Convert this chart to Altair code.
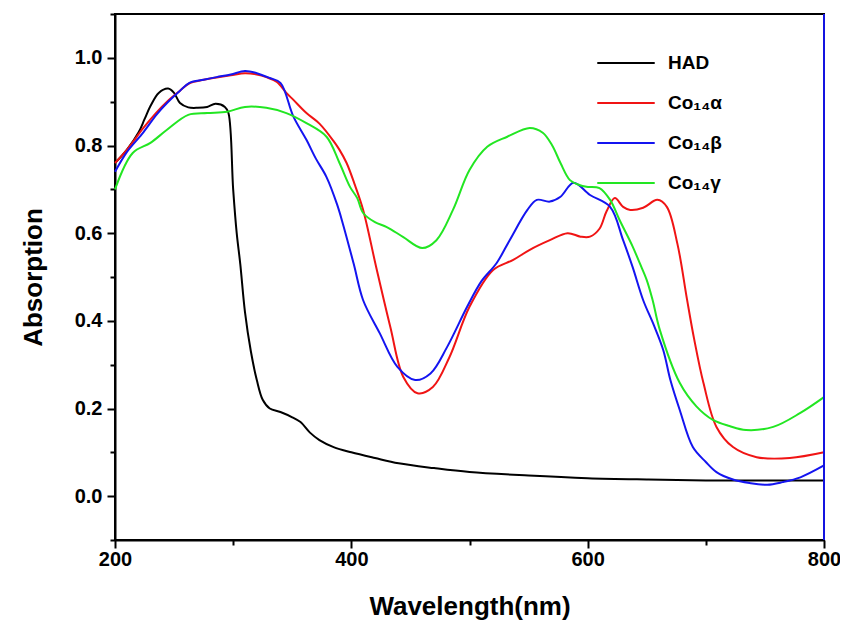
import altair as alt
import pandas as pd

series_names = ["HAD", "Co₁₄α", "Co₁₄β", "Co₁₄γ"]
series_colors = ["#000000", "#f01414", "#1414f0", "#22e622"]

had_nm = [200, 210, 220, 225, 230, 237, 245, 250, 255, 262, 270, 278, 285, 293, 296, 300, 303, 306,
          310, 315, 320, 325, 331, 340, 350, 357, 365, 373, 385, 400, 420, 440, 470, 500, 550, 600,
          650, 700, 750, 800]
had_abs = [0.76, 0.79, 0.83, 0.86, 0.89, 0.92, 0.93, 0.92, 0.897, 0.887, 0.886, 0.888, 0.895, 0.888,
           0.874, 0.70, 0.60, 0.53, 0.42, 0.33, 0.265, 0.22, 0.20, 0.192, 0.18, 0.169, 0.145, 0.128,
           0.112, 0.10, 0.087, 0.075, 0.064, 0.055, 0.047, 0.041, 0.038, 0.036, 0.036, 0.036]

alpha_nm = [200, 210, 224, 235, 244, 255, 263, 275, 286, 298, 310, 320, 328, 337, 345, 351, 362, 373,
            385, 390, 396, 403, 410, 421, 433, 444, 456, 469, 483, 500, 520, 537, 551, 568, 583, 594,
            602, 610, 616, 623, 630, 636, 647, 659, 667, 676, 684, 690, 698, 709, 723, 743, 771, 800]
alpha_abs = [0.76, 0.79, 0.84, 0.875, 0.90, 0.925, 0.942, 0.95, 0.955, 0.96, 0.965, 0.962, 0.956, 0.945,
             0.92, 0.904, 0.874, 0.85, 0.81, 0.79, 0.76, 0.71, 0.653, 0.523, 0.386, 0.272, 0.235, 0.249,
             0.317, 0.432, 0.516, 0.539, 0.562, 0.584, 0.60, 0.592, 0.592, 0.61, 0.65, 0.68, 0.66, 0.653,
             0.658, 0.676, 0.66, 0.575, 0.45, 0.36, 0.258, 0.158, 0.112, 0.089, 0.087, 0.10]

beta_nm = [200, 210, 224, 235, 244, 255, 263, 275, 286, 298, 310, 320, 331, 340, 351, 362, 370, 379,
           388, 393, 402, 410, 424, 439, 454, 467, 481, 498, 510, 523, 534, 549, 557, 568, 577, 588,
           602, 619, 630, 638, 647, 656, 664, 670, 678, 689, 700, 709, 723, 737, 752, 765, 780, 800]
beta_abs = [0.74, 0.785, 0.83, 0.87, 0.897, 0.925, 0.943, 0.95, 0.956, 0.962, 0.97, 0.965, 0.954, 0.943,
            0.866, 0.813, 0.77, 0.728, 0.665, 0.62, 0.53, 0.447, 0.372, 0.295, 0.265, 0.28, 0.34, 0.432,
            0.49, 0.532, 0.584, 0.653, 0.676, 0.672, 0.683, 0.715, 0.687, 0.66, 0.584, 0.523, 0.447,
            0.39, 0.333, 0.265, 0.196, 0.112, 0.078, 0.055, 0.038, 0.03, 0.026, 0.032, 0.043, 0.07]

gamma_nm = [200, 215, 230, 244, 262, 278, 295, 310, 328, 345, 362, 379, 390, 399, 405, 410, 420, 430,
            444, 460, 472, 486, 500, 515, 532, 551, 562, 570, 577, 585, 593, 599, 610, 619, 627, 638,
            644, 650, 655, 661, 678, 692, 706, 720, 734, 757, 780, 800]
gamma_abs = [0.70, 0.783, 0.806, 0.836, 0.87, 0.874, 0.877, 0.888, 0.886, 0.874, 0.851, 0.82, 0.76,
             0.705, 0.68, 0.646, 0.625, 0.614, 0.591, 0.566, 0.584, 0.653, 0.744, 0.797, 0.82, 0.84,
             0.829, 0.80, 0.76, 0.721, 0.71, 0.706, 0.703, 0.676, 0.63, 0.57, 0.532, 0.493, 0.447,
             0.38, 0.258, 0.205, 0.174, 0.16, 0.151, 0.158, 0.19, 0.226]

x_ticks = [200, 300, 400, 500, 600, 700, 800]
y_ticks = [-0.1, 0.0, 0.1, 0.2, 0.3, 0.4, 0.5, 0.6, 0.7, 0.8, 0.9, 1.0, 1.1]

frames = []
for name, nm, ab in zip(series_names, [had_nm, alpha_nm, beta_nm, gamma_nm],
                        [had_abs, alpha_abs, beta_abs, gamma_abs]):
    frames.append(pd.DataFrame({"nm": nm, "abs": ab, "series": name}))
df = pd.concat(frames, ignore_index=True)

font = "Liberation Sans"

x_enc = alt.X("nm:Q", scale=alt.Scale(domain=[200, 800], nice=False),
              axis=alt.Axis(values=x_ticks, title="Wavelength(nm)",
                            labelExpr="datum.value % 200 == 0 ? datum.label : ''",
                            format="d", grid=False, domainColor="black", domainWidth=2,
                            tickColor="black", tickWidth=2, labelFlush=False,
                            tickSize={"condition": {"test": "datum.value % 200 == 0", "value": 8}, "value": 5},
                            labelFont=font, labelFontSize=20, labelFontWeight="bold", labelColor="black",
                            labelPadding=1, titleFont=font, titleFontSize=26, titleFontWeight="bold",
                            titleColor="black", titlePadding=24))
y_enc = alt.Y("abs:Q", scale=alt.Scale(domain=[-0.1, 1.1], nice=False, zero=False),
              axis=alt.Axis(values=y_ticks, title="Absorption", format=".1f",
                            labelExpr="(round(datum.value*10) % 2 == 0) && datum.value > -0.05 && datum.value < 1.05 ? datum.label : ''",
                            grid=False, domainColor="black", domainWidth=2,
                            tickColor="black", tickWidth=2, labelFlush=False,
                            tickSize={"condition": {"test": "round(datum.value*10) % 2 == 0", "value": 8}, "value": 5},
                            labelFont=font, labelFontSize=20, labelFontWeight="bold", labelColor="black",
                            labelPadding=5, titleFont=font, titleFontSize=26, titleFontWeight="bold",
                            titleColor="black", titlePadding=28))

lines = alt.Chart(df).mark_line(strokeWidth=2, interpolate="catmull-rom").encode(
    x=x_enc, y=y_enc,
    color=alt.Color("series:N", sort=series_names,
                    scale=alt.Scale(domain=series_names, range=series_colors),
                    legend=alt.Legend(title=None, orient="none", legendX=481, legendY=19,
                                      symbolType="stroke", symbolSize=3300, symbolStrokeWidth=2,
                                      labelFont=font, labelFontSize=19, labelFontWeight="bold",
                                      labelColor="black", rowPadding=0, labelOffset=12)),
    order=alt.Order("nm:Q"),
)

right_edge = alt.Chart(pd.DataFrame({"edge": [800]})).mark_rule(color="#1414e0", strokeWidth=2).encode(
    x=alt.X("edge:Q"))

chart = alt.layer(lines, right_edge).properties(
    width=709, height=526,
    autosize=alt.AutoSizeParams(type="none"),
    padding={"left": 107, "top": 6, "right": 16, "bottom": 90},
).configure_view(stroke="black", strokeWidth=2)

chart.save("out.html", embed_options={"renderer": "svg", "actions": False})
